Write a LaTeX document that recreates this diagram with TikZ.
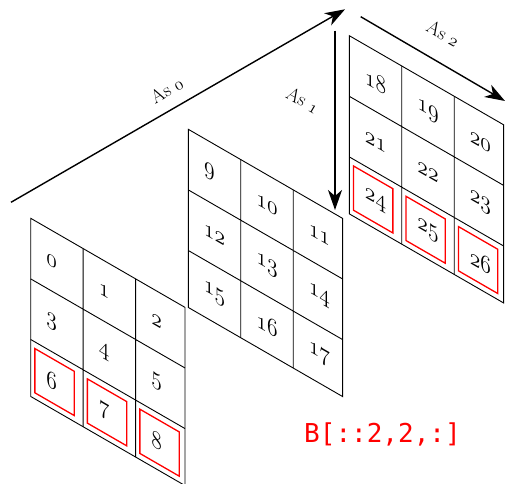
\documentclass[tikz,border=0pt]{standalone}
\usepackage{fontspec}
\newfontfamily\monofont{DejaVu Sans Mono}
\usetikzlibrary{arrows.meta}
\newcommand\osn[1]{{\usefont{OML}{lmm}{m}{it}#1}}
\tikzset{
  gridline/.style={draw=black, line width=0.9pt},
  redbox/.style={draw=red, line width=1.3pt},
  num/.style={transform shape, inner sep=0pt, font=\fontsize{31}{31}\selectfont},
  axarrow/.style={line width=1.4pt, -{Stealth[length=20pt,width=14pt,inset=6pt]}},
  axlabel/.style={inner sep=0pt, font=\fontsize{19}{19}\selectfont},
}
\newcommand\mygrid[4]{%
  \begin{scope}[cm={0.866,-0.5,0,1,(#1pt,#2pt)}, x=60.6pt, y=60.6pt]
    \draw[gridline] (0,0) rectangle (2.94,-2.94);
    \draw[gridline] (1,0) -- (1,-2.94) (2,0) -- (2,-2.94)
                    (0,-1) -- (2.94,-1) (0,-2) -- (2.94,-2);
    \foreach \j in {0,1,2}{%
      \foreach \i in {0,1,2}{%
        \pgfmathtruncatemacro\n{#3+3*\j+\i}%
        \pgfmathsetmacro\sx{\i+(\n<10 ? 0.4 : 0.5)}%
        \pgfmathsetmacro\ty{(\j==2 ? 2.47 : \j+0.5)}%
        \node[num] (g\n) at (\sx,-\ty) {\osn{\n}};
      }%
    }
    \ifnum#4=1
      \foreach \i in {0,1,2}{\draw[redbox] (\i+0.08,-2.11) rectangle (\i+0.83,-2.84);}
    \fi
  \end{scope}}
\begin{document}
\begin{tikzpicture}[x=1pt,y=1pt]
  \useasboundingbox (0,0) rectangle (506,484);
  \mygrid{30.7}{265.7}{0}{1}
  \mygrid{188.3}{354.7}{9}{0}
  \mygrid{349.3}{448.3}{18}{1}
  \coordinate (a0s) at (11,281.7);
  \coordinate (a0e) at (345,474.7);
  \coordinate (a1s) at (335,453.3);
  \coordinate (a1e) at (335,274);
  \coordinate (a2s) at (360.7,467.3);
  \coordinate (a2e) at (505,383);
  \draw[axarrow] (a0s) -- (a0e);
  \draw[axarrow] (a1s) -- (a1e);
  \draw[axarrow] (a2s) -- (a2e);
  \node[axlabel, rotate=30] (l0) at (166.7,394) {As~\osn{0}};
  \node[axlabel, rotate=-30] (l1) at (303,384) {As~\osn{1}};
  \node[axlabel, rotate=-30] (l2) at (443.3,450.7) {As~\osn{2}};
  \node[text=red, inner sep=0pt, font=\monofont\fontsize{26}{26}\selectfont] (code) at (382.5,50) {B[::2,2,:]};
\end{tikzpicture}
\end{document}
